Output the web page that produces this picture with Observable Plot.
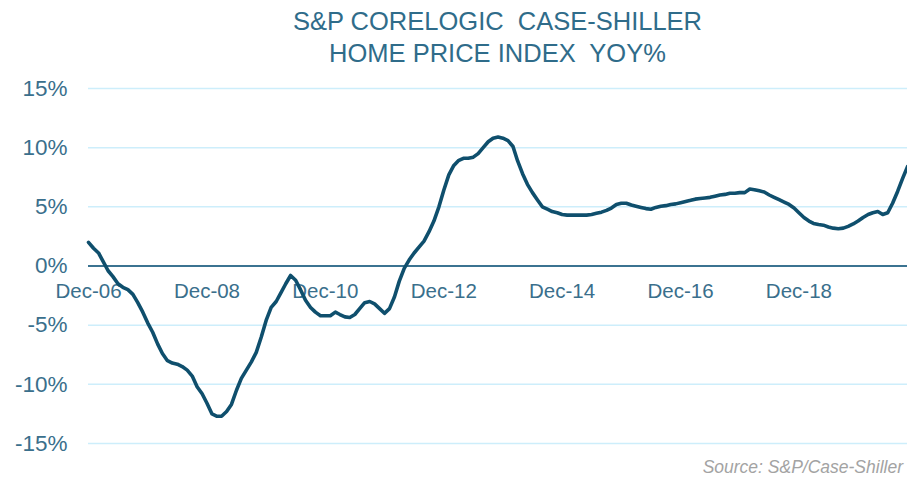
<!DOCTYPE html>
<html>
<head>
<meta charset="utf-8">
<script src="https://cdn.jsdelivr.net/npm/d3@7"></script>
<script src="https://cdn.jsdelivr.net/npm/@observablehq/plot@0.6"></script>
<style>
  html, body { margin: 0; padding: 0; background: #fff; }
  body { width: 907px; height: 478px; overflow: hidden; position: relative; font-family: "Liberation Sans", Arial, sans-serif; }
  #title { margin-left: 88px; width: 819px; height: 70px; box-sizing: border-box; padding-top: 5px;
           text-align: center; font-size: 25.5px; line-height: 32px; color: #2f6c8a; white-space: pre; }
  #source { position: absolute; right: 4px; top: 458px; font-size: 17.5px; line-height: 18px; font-style: italic;
            color: #a3a3a3; white-space: nowrap; }
</style>
</head>
<body>
<div id="title">S&amp;P CORELOGIC  CASE-SHILLER
HOME PRICE INDEX  YOY%</div>
<div id="chart"></div>
<div id="source">Source:  S&amp;P/Case-Shiller</div>
<script>
// First month of the series and last month shown
const startMonth = "Dec-06";
const endMonth = "Oct-20";

// Monthly YoY % change, Dec 2006 .. Oct 2020
const yoy2007 = [2.0, 1.5, 1.1, 0.4, -0.4, -0.9, -1.5, -1.8, -2.0, -2.4, -3.1, -3.9, -4.8];
const yoy2008 = [-5.6, -6.6, -7.4, -8.0, -8.2, -8.3, -8.5, -8.8, -9.3, -10.2, -10.8, -11.6];
const yoy2009 = [-12.5, -12.7, -12.7, -12.3, -11.7, -10.5, -9.5, -8.8, -8.1, -7.3, -6.0, -4.6];
const yoy2010 = [-3.5, -3.0, -2.3, -1.5, -0.8, -1.2, -2.0, -2.9, -3.5, -3.9, -4.2, -4.2];
const yoy2011 = [-4.2, -3.9, -4.1, -4.3, -4.35, -4.1, -3.6, -3.1, -3.0, -3.2, -3.6, -4.0];
const yoy2012 = [-3.6, -2.6, -1.3, -0.2, 0.5, 1.1, 1.6, 2.1, 2.9, 3.8, 5.0, 6.4];
const yoy2013 = [7.7, 8.5, 8.9, 9.1, 9.1, 9.2, 9.5, 10.0, 10.5, 10.8, 10.9, 10.8];
const yoy2014 = [10.6, 10.1, 8.9, 7.8, 6.9, 6.2, 5.6, 5.0, 4.8, 4.6, 4.5, 4.35];
const yoy2015 = [4.3, 4.3, 4.3, 4.3, 4.3, 4.35, 4.45, 4.55, 4.7, 4.9, 5.2, 5.3];
const yoy2016 = [5.3, 5.15, 5.05, 4.95, 4.85, 4.8, 4.95, 5.05, 5.1, 5.2, 5.25, 5.35];
const yoy2017 = [5.45, 5.55, 5.65, 5.7, 5.75, 5.8, 5.9, 6.0, 6.05, 6.15, 6.15, 6.2];
const yoy2018 = [6.2, 6.5, 6.45, 6.35, 6.25, 6.0, 5.8, 5.6, 5.4, 5.2, 4.9, 4.5];
const yoy2019 = [4.1, 3.8, 3.6, 3.5, 3.45, 3.3, 3.2, 3.15, 3.2, 3.35, 3.55, 3.8];
const yoy2020 = [4.1, 4.35, 4.5, 4.6, 4.35, 4.5, 5.3, 6.3, 7.4, 8.4];

// Axis labels
const xTickLabels = ["Dec-06", "Dec-08", "Dec-10", "Dec-12", "Dec-14", "Dec-16", "Dec-18"];
const yTicks = [-15, -10, -5, 0, 5, 10, 15];

const parseMonth = d3.utcParse("%b-%y");
const values = [].concat(yoy2007, yoy2008, yoy2009, yoy2010, yoy2011, yoy2012, yoy2013,
                         yoy2014, yoy2015, yoy2016, yoy2017, yoy2018, yoy2019, yoy2020);
const start = parseMonth(startMonth);
const data = values.map((v, i) => ({date: d3.utcMonth.offset(start, i), value: v}));
const xTicks = xTickLabels.map(s => ({date: parseMonth(s), label: s}));

const chart = Plot.plot({
  width: 907,
  height: 408,
  marginTop: 18,
  marginBottom: 35,
  marginLeft: 88,
  marginRight: 0,
  style: {fontFamily: "'Liberation Sans', Arial, sans-serif", fontSize: "22.5px", color: "#3a6f8c", background: "white"},
  x: {type: "utc", domain: [start, parseMonth(endMonth)], axis: null},
  y: {domain: [-15, 15], axis: null},
  marks: [
    Plot.ruleY(yTicks.filter(d => d !== 0), {stroke: "#cdeefb", strokeWidth: 1.5}),
    Plot.axisY({ticks: yTicks, tickSize: 0, tickPadding: 21, tickFormat: d => d + "%", label: null, fill: "#3a6f8c"}),
    Plot.ruleY([0], {stroke: "#3b7391", strokeWidth: 2}),
    Plot.text(xTicks, {x: "date", y: () => 0, text: "label", dy: 25.6, fontSize: 20.5, fill: "#3a6f8c"}),
    Plot.line(data, {x: "date", y: "value", stroke: "#0f4f6d", strokeWidth: 3.6, curve: "linear", strokeLinejoin: "round", strokeLinecap: "round"})
  ]
});
document.getElementById("chart").appendChild(chart);
</script>
</body>
</html>
